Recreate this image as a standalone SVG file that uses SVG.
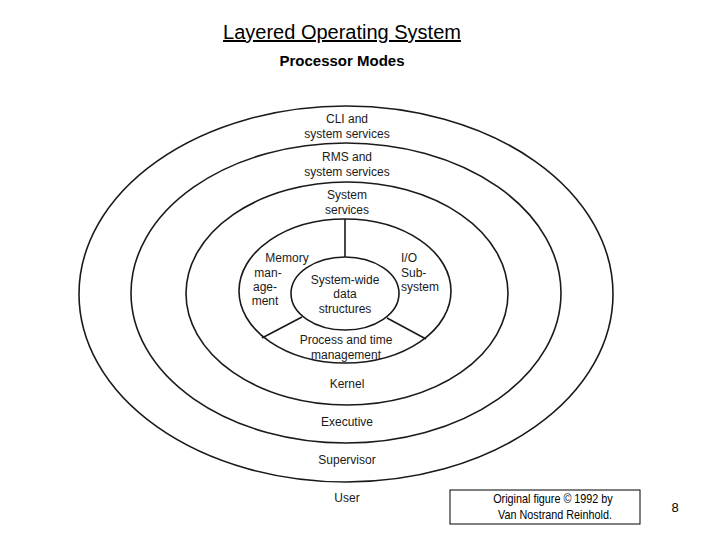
<svg xmlns="http://www.w3.org/2000/svg" width="720" height="540" viewBox="0 0 720 540">
<style>
.r{fill:none;stroke:#1a1a1a;stroke-width:1.6}
.t{font-family:"Liberation Sans",Arial,sans-serif;font-size:12px;fill:#1a1a1a;text-anchor:middle}
.l{text-anchor:start}
</style>
<rect width="720" height="540" fill="#fff"/>
<text x="342" y="39" font-family="Liberation Sans,Arial,sans-serif" font-size="20" text-anchor="middle" text-decoration="underline">Layered Operating System </text>
<text x="342" y="66" font-family="Liberation Sans,Arial,sans-serif" font-size="15" font-weight="bold" text-anchor="middle">Processor Modes</text>
<g id="user"><ellipse class="r" cx="346" cy="294" rx="267" ry="188"/><text class="t" x="347" y="502">User</text><text class="t" x="347" y="123">CLI and</text><text class="t" x="347" y="138">system services</text></g>
<g id="supervisor"><ellipse class="r" cx="346" cy="293" rx="215" ry="150"/><text class="t" x="347" y="464">Supervisor</text><text class="t" x="347" y="161">RMS and</text><text class="t" x="347" y="176">system services</text></g>
<g id="executive"><ellipse class="r" cx="347" cy="293.5" rx="161" ry="111.5"/><text class="t" x="347" y="426">Executive</text><text class="t" x="347" y="199">System</text><text class="t" x="347" y="214">services</text></g>
<g id="kernel"><ellipse class="r" cx="345" cy="291" rx="106" ry="72"/><text class="t" x="347" y="388">Kernel</text>
<text class="t" x="287" y="262">Memory</text><text class="t" x="268" y="277">man-</text><text class="t" x="265" y="291">age-</text><text class="t" x="265" y="305">ment</text>
<text class="t l" x="401" y="262">I/O</text><text class="t l" x="401" y="277">Sub-</text><text class="t l" x="401" y="291">system</text>
<text class="t" x="346" y="344">Process and time</text><text class="t" x="346" y="359">management</text></g>
<g id="core"><ellipse class="r" cx="345" cy="293.5" rx="54" ry="36.5"/><text class="t" x="345" y="284">System-wide</text><text class="t" x="345" y="298">data</text><text class="t" x="345" y="313">structures</text></g>
<g id="connectors"><line class="r" x1="345" y1="219" x2="345" y2="257"/><line class="r" x1="302" y1="317" x2="262" y2="338"/><line class="r" x1="387" y1="318" x2="426" y2="339"/></g>
<g id="note"><rect x="450" y="490" width="190" height="34" fill="#fff" stroke="#000"/><text x="553" y="503" font-family="Liberation Sans Narrow,Liberation Sans,sans-serif" font-size="12" text-anchor="middle" transform="translate(553 0) scale(0.9 1) translate(-553 0)">Original figure © 1992 by</text><text x="555" y="519" font-family="Liberation Sans Narrow,Liberation Sans,sans-serif" font-size="12" text-anchor="middle" transform="translate(555 0) scale(0.9 1) translate(-555 0)">Van Nostrand Reinhold.</text></g>
<text x="675" y="512" font-family="Liberation Sans,Arial,sans-serif" font-size="13" text-anchor="middle">8</text>
</svg>
